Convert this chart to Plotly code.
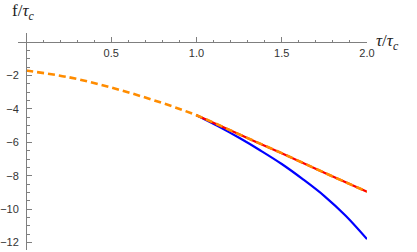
import plotly.graph_objects as go

# Orange dashed curve (0 .. 2)
orange_x = [0.0, 0.25, 0.5, 0.75, 1.0, 1.25, 1.5, 1.75, 2.0]
orange_y = [-1.70, -2.10, -2.72, -3.48, -4.38, -5.52, -6.65, -7.82, -8.96]

# Red solid curve (1 .. 2)
red_x = [1.0, 1.25, 1.5, 1.75, 2.0]
red_y = [-4.38, -5.52, -6.66, -7.82, -8.96]

# Blue solid curve (1 .. 2)
blue_x = [1.0, 1.125, 1.25, 1.375, 1.5, 1.625, 1.75, 1.875, 2.0]
blue_y = [-4.38, -5.03, -5.73, -6.49, -7.30, -8.22, -9.22, -10.40, -11.8]

x_ticks = [0.5, 1.0, 1.5, 2.0]
x_ticklabels = ["0.5", "1.0", "1.5", "2.0"]
y_ticks = [-2, -4, -6, -8, -10, -12]

xr = [-0.047, 2.0]
yr = [-12.45, 0.55]

fig = go.Figure()
fig.add_trace(go.Scatter(x=blue_x, y=blue_y, mode="lines", line=dict(color="#0000FF", width=2.2, shape="spline"), showlegend=False))
fig.add_trace(go.Scatter(x=red_x, y=red_y, mode="lines", line=dict(color="#FF0000", width=2.2, shape="spline"), showlegend=False))
fig.add_trace(go.Scatter(x=orange_x, y=orange_y, mode="lines", line=dict(color="#FF8C00", width=2.6, dash="7px,4px", shape="spline"), showlegend=False))

axcol = "#7f7f7f"
tickfont = dict(family="Liberation Sans, Arial, sans-serif", size=11, color="#333333")
titlefont = dict(family="Liberation Serif, Times New Roman, serif", size=17, color="#222222")

fig.update_layout(
    width=417, height=252,
    margin=dict(l=18, r=50, t=33, b=2),
    paper_bgcolor="white", plot_bgcolor="white",
    xaxis=dict(range=xr, showgrid=False, zeroline=False, showline=True, linecolor=axcol, linewidth=1,
               anchor="free", position=(0 - yr[0]) / (yr[1] - yr[0]), side="bottom", automargin=False,
               tickvals=x_ticks, ticktext=x_ticklabels, ticks="inside", ticklen=5, tickcolor=axcol, tickwidth=1,
               minor=dict(dtick=0.1, tick0=0, ticks="inside", ticklen=2.5, tickcolor=axcol, showgrid=False),
               tickfont=tickfont, ticklabelstandoff=1),
    yaxis=dict(range=yr, showgrid=False, zeroline=False, showline=True, linecolor=axcol, linewidth=1,
               anchor="free", position=(0 - xr[0]) / (xr[1] - xr[0]), side="left", automargin=False,
               tickvals=y_ticks, ticks="inside", ticklen=5, tickcolor=axcol, tickwidth=1,
               minor=dict(dtick=0.5, tick0=0, ticks="inside", ticklen=2.5, tickcolor=axcol, showgrid=False),
               tickfont=tickfont, ticklabelstandoff=5),
    annotations=[
        dict(text="f/<i>τ<sub>c</sub></i>", xref="paper", yref="paper", x=-0.023, y=1.0, yshift=21,
             xanchor="left", yanchor="middle", showarrow=False, font=titlefont),
        dict(text="<i>τ</i>/<i>τ<sub>c</sub></i>", xref="paper", yref="y", x=1.0, y=0, xshift=7, yshift=0,
             xanchor="left", yanchor="middle", showarrow=False, font=titlefont),
    ],
)

fig.write_html("out.html", config={"displayModeBar": False},
               post_script="document.body.style.margin='0';document.body.style.overflow='hidden';")
